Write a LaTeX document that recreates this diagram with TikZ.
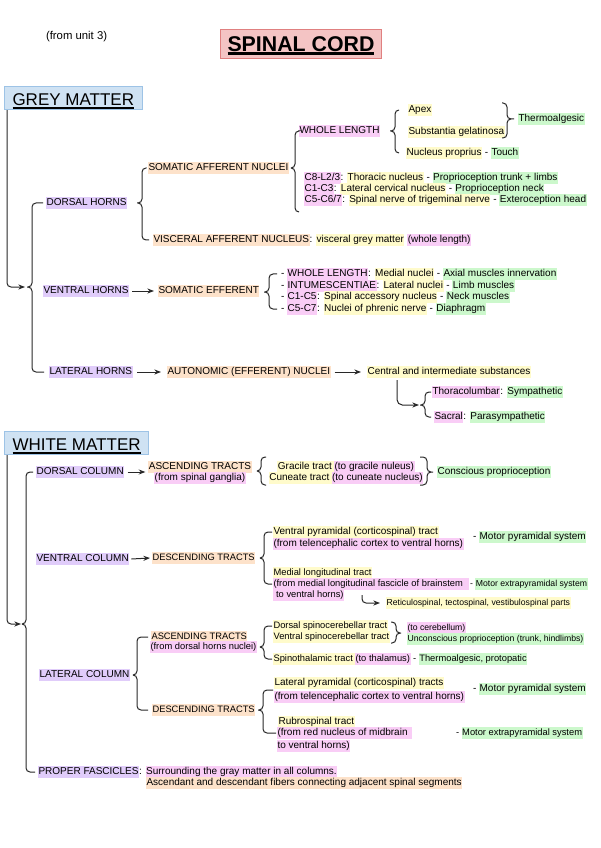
\documentclass[tikz,border=0pt]{standalone}
\usepackage{fontspec}
\setmainfont{Liberation Sans}
\usetikzlibrary{arrows.meta,calc}
\definecolor{pu}{RGB}{224,204,250}
\definecolor{or}{RGB}{253,226,202}
\definecolor{pk}{RGB}{249,205,246}
\definecolor{ye}{RGB}{255,251,203}
\definecolor{gr}{RGB}{204,248,204}
\definecolor{bluefill}{RGB}{207,226,243}
\definecolor{blueline}{RGB}{157,195,230}
\definecolor{titlefill}{RGB}{244,196,196}
\definecolor{titleline}{RGB}{224,128,128}
\definecolor{ink}{RGB}{40,40,40}
\newcommand\hlt[2]{{\setlength\fboxsep{0.4pt}\colorbox{#1}{\rule[-2.1pt]{0pt}{7.6pt}#2}}}
\newcommand\ulbox[3]{\setbox0=\hbox{#3}\leavevmode\rlap{\rule[\dimexpr-#1-#2\relax]{\wd0}{#2}}\box0}
\newcommand\fs{\fontsize{7.5}{9}\selectfont}
\newcommand\fsb{\fontsize{7}{8.5}\selectfont}
\newcommand\fsc{\fontsize{6.5}{8}\selectfont}
\newcommand\BrL[4]{\draw[brc] #1 -| ($#2+(#4,0)$) -- #2 #2 -- ($#2+(#4,0)$) |- #3;}
\newcommand\BrR[4]{\draw[brc] #1 -| ($#2+(-#4,0)$) -- #2 #2 -- ($#2+(-#4,0)$) |- #3;}
\tikzset{
 tx/.style={inner sep=0pt, outer sep=0pt, anchor=west, font=\fs},
 txc/.style={tx, anchor=center},
 conn/.style={draw=ink, line width=0.75pt},
 arr/.style={conn, -{Stealth[length=5pt,width=3.8pt]}},
 brc/.style={conn, rounded corners=3pt},
 mbox/.style={draw=blueline, fill=bluefill, line width=0.75pt, inner xsep=6pt, inner ysep=0pt,
   text height=14.3pt, text depth=3pt, anchor=north west, font=\fontsize{12.75}{14}\selectfont},
}
\begin{document}
\begin{tikzpicture}[x=0.75pt,y=-0.75pt]
\fill[white] (0,0) rectangle (600,848);
\useasboundingbox (0,0) rectangle (600,848);

% header
\node[tx, font=\fontsize{8.5}{10}\selectfont] (unit) at (46,37) {(from unit 3)};
\node[draw=titleline, fill=titlefill, line width=0.75pt, inner xsep=5.25pt, inner ysep=0pt,
  text height=16.3pt, text depth=5.7pt, anchor=north west,
  font=\fontsize{16}{18}\selectfont\bfseries] (title) at (220,29)
  {\ulbox{0.8pt}{2.2pt}{SPINAL CORD}};

% ================= GREY MATTER =================
\node[mbox] (gm) at (4,86) {\ulbox{1.3pt}{1.1pt}{GREY MATTER}};

\node[tx] (dh) at (46,203) {\hlt{pu}{DORSAL HORNS}};
\node[tx] (vh) at (43,291) {\hlt{pu}{VENTRAL HORNS}};
\node[tx] (lh) at (49,372) {\hlt{pu}{LATERAL HORNS}};

\coordinate (t1) at (27,287);
\BrL{($(dh.west)+(-3,0)$)}{(t1)}{($(lh.west)+(-5,0)$)}{5}
\draw[arr, rounded corners=3pt] ([xshift=2.25pt]gm.south west) |- ($(t1)+(-2,0)$);

% dorsal horns
\node[tx] (san) at (148,168) {\hlt{or}{SOMATIC AFFERENT NUCLEI}};
\node[tx] (van) at (153,240) {\hlt{or}{VISCERAL AFFERENT NUCLEUS}: \hlt{ye}{visceral grey matter} \hlt{pk}{(whole length)}};
\coordinate (t2) at (137,203);
\BrL{($(san.west)+(-1.5,0)$)}{(t2)}{($(van.west)+(-4,0)$)}{5}

\node[tx] (wl) at (299,131) {\hlt{pk}{WHOLE LENGTH}};
\node[tx] (apex) at (408,110) {\hlt{ye}{Apex}};
\node[tx] (sg) at (408,132) {\hlt{ye}{Substantia gelatinosa}};
\node[tx] (np) at (406,153) {\hlt{ye}{Nucleus proprius} - \hlt{gr}{Touch}};
\node[tx] (thermo) at (518,119) {\hlt{gr}{Thermoalgesic}};
\node[tx] (cA) at (304,178) {\hlt{pk}{C8-L2/3}: \hlt{ye}{Thoracic nucleus} - \hlt{gr}{Proprioception trunk + limbs}};
\node[tx] (cB) at (304,189) {\hlt{pk}{C1-C3}: \hlt{ye}{Lateral cervical nucleus} - \hlt{gr}{Proprioception neck}};
\node[tx] (cC) at (304,200) {\hlt{pk}{C5-C6/7}: \hlt{ye}{Spinal nerve of trigeminal nerve} - \hlt{gr}{Exteroception head}};
\coordinate (cbot) at (299,212);
\coordinate (t3) at (291,168);
\BrL{($(wl.west)+(-1,0)$)}{(t3)}{(cbot)}{4}
\coordinate (t4) at (390,131);
\BrL{($(apex.west)+(-9,0)$)}{(t4)}{($(np.west)+(-7,0)$)}{5}
\coordinate (t5) at (514,119);
\coordinate (r5a) at (502,103);
\coordinate (r5b) at (502,138);
\BrR{(r5a)}{(t5)}{(r5b)}{7}

% ventral horns
\node[tx] (se) at (158,291) {\hlt{or}{SOMATIC EFFERENT}};
\draw[arr] ([xshift=2.5pt]vh.east) -- ([xshift=-3pt]se.west);
\node[tx] (r1) at (281,274) {- \hlt{pk}{WHOLE LENGTH}: \hlt{ye}{Medial nuclei} - \hlt{gr}{Axial muscles innervation}};
\node[tx] (r2) at (281,286) {- \hlt{pk}{INTUMESCENTIAE}: \hlt{ye}{Lateral nuclei} - \hlt{gr}{Limb muscles}};
\node[tx] (r3) at (281,297) {- \hlt{pk}{C1-C5}: \hlt{ye}{Spinal accessory nucleus} - \hlt{gr}{Neck muscles}};
\node[tx] (r4) at (281,309) {- \hlt{pk}{C5-C7}: \hlt{ye}{Nuclei of phrenic nerve} - \hlt{gr}{Diaphragm}};
\coordinate (t6) at (264,292);
\BrL{($(r1.west)+(-4,0)$)}{(t6)}{($(r4.west)+(-4,0)$)}{5}

% lateral horns
\node[tx] (aut) at (167,372) {\hlt{or}{AUTONOMIC (EFFERENT) NUCLEI}};
\node[tx] (cis) at (367,372) {\hlt{ye}{Central and intermediate substances}};
\draw[arr] ([xshift=3.5pt]lh.east) -- ([xshift=-4.5pt]aut.west);
\draw[arr] ([xshift=3pt]aut.east) -- ([xshift=-4.5pt]cis.west);
\node[tx] (tl) at (432,392) {\hlt{pk}{Thoracolumbar}: \hlt{gr}{Sympathetic}};
\node[tx] (sac) at (434,417) {\hlt{pk}{Sacral}: \hlt{gr}{Parasympathetic}};
\coordinate (t7) at (420,405);
\BrL{($(tl.west)+(-1,0)$)}{(t7)}{($(sac.west)+(-3,0)$)}{5}
\draw[arr, rounded corners=4pt] ($(cis.west)+(30,8)$) |- ($(t7)+(-1,0)$);

% ================= WHITE MATTER =================
\node[mbox] (wm) at (4,431) {\ulbox{1.3pt}{1.1pt}{WHITE MATTER}};

% dorsal column
\node[tx] (dc) at (36,472) {\hlt{pu}{DORSAL COLUMN}};
\node[txc] (asc1) at (200,467) {\hlt{or}{ASCENDING TRACTS}};
\node[txc] (asc1b) at (200,478) {\hlt{pk}{(from spinal ganglia)}};
\draw[arr] ([xshift=2.5pt]dc.east) -- ($(dc.east -| asc1.west)+(-3,0)$);
\node[txc] (gra) at (346,467) {\hlt{ye}{Gracile tract\,}\hlt{pk}{(to gracile nuleus)}};
\node[txc] (cun) at (346,478) {\hlt{ye}{Cuneate tract\,}\hlt{pk}{(to cuneate nucleus)}};
\coordinate (t8) at (257,471);
\coordinate (l8a) at (266,457);
\coordinate (l8b) at (266,485);
\BrL{(l8a)}{(t8)}{(l8b)}{4}
\coordinate (t9) at (433,472);
\coordinate (r9a) at (420,457);
\coordinate (r9b) at (420,485);
\BrR{(r9a)}{(t9)}{(r9b)}{6}
\node[tx] (cp) at (437,472) {\hlt{gr}{Conscious proprioception}};

% ventral column
\node[tx] (vc) at (36,559) {\hlt{pu}{VENTRAL COLUMN}};
\node[tx, font=\fsb] (dt1) at (152,558) {\hlt{or}{DESCENDING TRACTS}};
\draw[arr] ([xshift=1.5pt]vc.east) -- ([xshift=-1.5pt]dt1.west);
\node[tx] (vp1) at (273,532) {\hlt{ye}{Ventral pyramidal (corticospinal) tract}};
\node[tx] (vp2) at (273,544) {\hlt{pk}{(from telencephalic cortex to ventral horns)}};
\node[tx] (mps1) at (473,537) {- \hlt{gr}{Motor pyramidal system}};
\node[tx, font=\fsb] (ml1) at (273,573) {\hlt{ye}{Medial longitudinal tract}};
\node[tx, font=\fsb] (ml2) at (273,584) {\hlt{pk}{(from medial longitudinal fascicle of brainstem\hspace{4pt}}};
\node[tx, font=\fsb] (ml3) at (273,595) {\hlt{pk}{\ to ventral horns)}};
\node[tx, font=\fsc] (mes1) at (470,584) {- \hlt{gr}{Motor extrapyramidal system}};
\node[tx, font=\fsc] (ret) at (386,603) {\hlt{ye}{Reticulospinal, tectospinal, vestibulospinal parts}};
\draw[arr, rounded corners=3pt] ($(ret.west)+(-24,-8)$) |- ([xshift=-4.5pt]ret.west);
\coordinate (t10) at (260,558);
\BrL{($(vp1.west)+(-1,0)$)}{(t10)}{($(ml2.west)+(-1,0)$)}{4}

% lateral column
\node[tx] (lc) at (39,675) {\hlt{pu}{LATERAL COLUMN}};
\node[tx, font=\fsb] (asc2) at (151,637) {\hlt{or}{ASCENDING TRACTS}};
\node[tx, font=\fsb] (asc2b) at (150,647) {\hlt{pk}{(from dorsal horns nuclei)}};
\node[tx, font=\fsb] (dt2) at (152,710) {\hlt{or}{DESCENDING TRACTS}};
\coordinate (t11) at (133,675);
\BrL{($(asc2.west)+(-3,0)$)}{(t11)}{($(dt2.west)+(-4,0)$)}{4}
\node[tx, font=\fsb] (ds) at (273,626) {\hlt{ye}{Dorsal spinocerebellar tract}};
\node[tx, font=\fsb] (vs) at (273,637) {\hlt{ye}{Ventral spinocerebellar tract}};
\node[tx, font=\fsb] (st) at (273,659) {\hlt{ye}{Spinothalamic tract\,}\hlt{pk}{(to thalamus)} - \hlt{gr}{Thermoalgesic, protopatic}};
\coordinate (t12) at (260,647);
\BrL{($(ds.west)+(-1,0)$)}{(t12)}{($(st.west)+(-1,0)$)}{4}
\coordinate (t13) at (401,633);
\coordinate (r13a) at (391,622);
\coordinate (r13b) at (391,643);
\BrR{(r13a)}{(t13)}{(r13b)}{5}
\node[tx, font=\fsc] (tcb) at (407,628) {\hlt{pk}{(to cerebellum)}};
\node[tx, font=\fsc] (up) at (407,639) {\hlt{gr}{Unconscious proprioception (trunk, hindlimbs)}};
\node[tx] (lp1) at (274,683) {\hlt{ye}{Lateral pyramidal (corticospinal) tracts}};
\node[tx] (lp2) at (274,697) {\hlt{pk}{(from telencephalic cortex to ventral horns)}};
\node[tx] (mps2) at (473,689) {- \hlt{gr}{Motor pyramidal system}};
\node[tx] (rb1) at (278,722) {\hlt{ye}{Rubrospinal tract}};
\node[tx] (rb2) at (277,733) {\hlt{pk}{(from red nucleus of midbrain\hspace{3pt}}};
\node[tx] (rb3) at (277,746) {\hlt{pk}{to ventral horns)}};
\node[tx, font=\fsb] (mes2) at (456,733) {- \hlt{gr}{Motor extrapyramidal system}};
\coordinate (t14) at (258,710);
\BrL{($(lp1.west)!0.5!(lp2.west)+(-1,0)$)}{(t14)}{($(rb2.west)+(-1,0)$)}{5}

% proper fascicles
\node[tx] (pf) at (38,772) {\hlt{pu}{PROPER FASCICLES}: \hlt{pk}{Surrounding the gray matter in all columns.}};
\node[tx] (pf2) at (146,783) {\hlt{or}{Ascendant and descendant fibers connecting adjacent spinal segments}};

\coordinate (t15) at (22,624);
\BrL{($(dc.west)+(-3,0)$)}{(t15)}{($(pf.west)+(-3,0)$)}{4}
\draw[arr, rounded corners=3pt] ([xshift=2.25pt]wm.south west) |- ($(t15)+(-1,0)$);
\end{tikzpicture}
\end{document}
